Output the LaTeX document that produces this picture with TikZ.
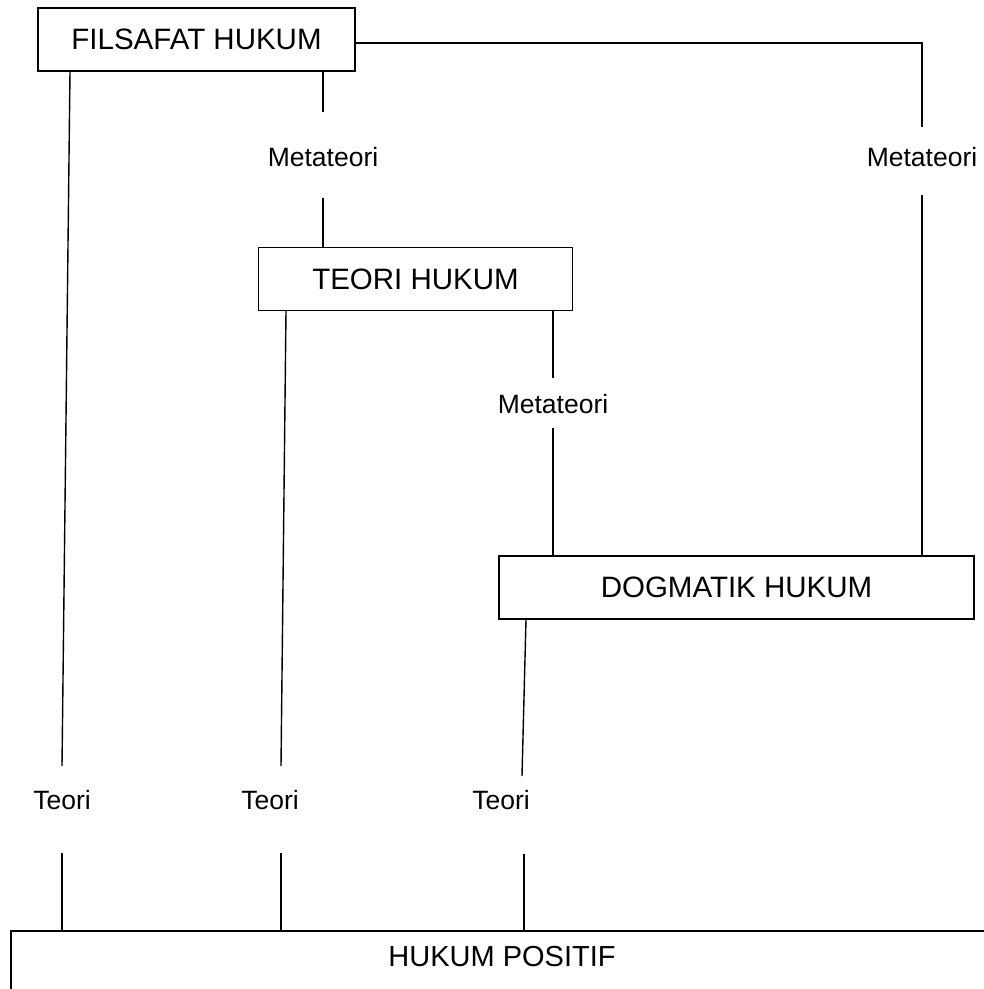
\documentclass[tikz,border=0pt]{standalone}
\usepackage{fontspec}
\setmainfont{Liberation Sans}
\begin{document}
\begin{tikzpicture}[x=1pt,y=-1pt,
  box/.style={draw, line width=1.3pt, rectangle, inner sep=0pt, font=\fontsize{29.5}{31}\selectfont},
  lbl/.style={inner sep=0pt, font=\fontsize{26.5}{28}\selectfont},
  conn/.style={line width=1.4pt}]
\useasboundingbox (0,0) rectangle (984,989);
\clip (0,0) rectangle (984,989);
% boxes
\node[box, minimum width=317pt, minimum height=63pt] (fil) at (196.5,39.5) {FILSAFAT HUKUM};
\node[box, minimum width=314pt, minimum height=63pt] (teo) at (415.5,279) {TEORI HUKUM};
\node[box, minimum width=475pt, minimum height=63pt] (dog) at (736.5,587.5) {DOGMATIK HUKUM};
\node[box, minimum width=989pt, minimum height=109pt] (posbox) at (505.5,985.5) {};
\node[lbl, font=\fontsize{29}{31}\selectfont] (pos) at (502,957) {HUKUM POSITIF};
% labels
\node[lbl] (m1) at (323,157) {Metateori};
\node[lbl] (m2) at (922,157) {Metateori};
\node[lbl] (m3) at (553,404) {Metateori};
\node[lbl] (t1) at (62,800) {Teori};
\node[lbl] (t2) at (270,800) {Teori};
\node[lbl] (t3) at (501,800) {Teori};
% helper coordinates
\coordinate (h1) at (922,43);
\coordinate (m2a) at (922,127);
\coordinate (m2b) at (922,195);
\coordinate (m1a) at (323,112);
\coordinate (m1b) at (323,198);
\coordinate (m3a) at (553,378);
\coordinate (m3b) at (553,428);
\coordinate (f1) at (70,0);
\coordinate (t1a) at (62,766);
\coordinate (t1b) at (62,853);
\coordinate (e1) at (286,0);
\coordinate (t2a) at (281,766);
\coordinate (t2b) at (281,853);
\coordinate (d1) at (526,0);
\coordinate (t3a) at (522,776);
\coordinate (t3b) at (524,854);
% connectors
\draw[conn] (h1 -| fil.east) -- (h1) -- (m2a);
\draw[conn] (m2b) -- (m2b |- dog.north);
\draw[conn] (m1a |- fil.south) -- (m1a);
\draw[conn] (m1b) -- (m1b |- teo.north);
\draw[conn] (m3a |- teo.south) -- (m3a);
\draw[conn] (m3b) -- (m3b |- dog.north);
\draw[conn] (f1 |- fil.south) -- (t1a);
\draw[conn] (t1b) -- (t1b |- posbox.north);
\draw[conn] (e1 |- teo.south) -- (t2a);
\draw[conn] (t2b) -- (t2b |- posbox.north);
\draw[conn] (d1 |- dog.south) -- (t3a);
\draw[conn] (t3b) -- (t3b |- posbox.north);
\end{tikzpicture}
\end{document}
